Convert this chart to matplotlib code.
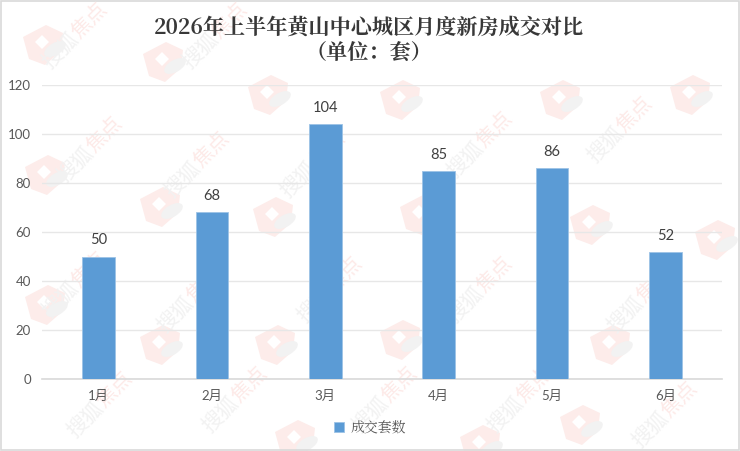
import math

import matplotlib.pyplot as plt
from matplotlib.patches import Ellipse, Polygon, Rectangle

plt.rcParams["font.family"] = ["Lato", "Noto Sans CJK SC", "DejaVu Sans"]

months = ["1月", "2月", "3月", "4月", "5月", "6月"]
deals = [50, 68, 104, 85, 86, 52]
y_ticks = [0, 20, 40, 60, 80, 100, 120]
title = "2026年上半年黄山中心城区月度新房成交对比\n（单位：套）"
series_name = "成交套数"
serif_fonts = ["Noto Serif CJK SC", "Noto Sans CJK SC", "DejaVu Sans"]

# watermark anchors in pixels
logo_spots = [(43, 45), (163, 62), (268, 95), (45, 175), (160, 207), (273, 217),
              (400, 100), (560, 100), (690, 95), (420, 215), (590, 225), (45, 305),
              (160, 345), (275, 345), (400, 340), (610, 345), (715, 240), (580, 425),
              (295, 440), (480, 445)]
mark_spots = [(75, 36), (215, 36), (90, 150), (197, 165), (313, 165), (480, 145),
              (620, 130), (75, 285), (190, 300), (330, 290), (480, 290), (640, 300),
              (100, 405), (235, 400), (385, 400), (520, 400), (665, 415)]

W, H = 740, 451
fig = plt.figure(figsize=(W / 100, H / 100), dpi=100, facecolor="white")

# full-figure pixel layer for the watermark and the outer frame
bg = fig.add_axes([0, 0, 1, 1], zorder=0)
bg.set_xlim(0, W)
bg.set_ylim(H, 0)
bg.axis("off")
for x, y in logo_spots:
    bg.add_patch(Polygon([(x - 20, y - 8), (x + 3, y - 20), (x + 20, y - 12), (x + 18, y + 6),
                          (x + 2, y + 20), (x - 14, y + 14)], closed=True,
                         fc="#fdecea", ec="none"))
    bg.add_patch(Ellipse((x + 12, y + 4), 24, 12, angle=-30, fc="#f2f2f2", ec="none"))
    bg.add_patch(Polygon([(x - 8, y - 3), (x - 1, y - 10), (x + 6, y - 3), (x - 1, y + 4)],
                         closed=True, fc="white", ec="none"))
for x, y in mark_spots:
    # 搜狐 grey, 焦点 red, running up the same 45 degree line
    step = 21
    dx, dy = step * math.cos(math.pi / 4), step * math.sin(math.pi / 4)
    bg.text(x - dx, y + dy, "搜狐", rotation=45, fontsize=15, color="#f2f2f2",
            ha="center", va="center", rotation_mode="anchor")
    bg.text(x + dx, y - dy, "焦点", rotation=45, fontsize=15, color="#fdeae8",
            ha="center", va="center", rotation_mode="anchor")
bg.add_patch(Rectangle((0.5, 0.5), W - 1.5, H - 1.5, fc="none", ec="#d9d9d9", lw=1.2))

# plot area: x 42-722 px, y 85-379 px
ax = fig.add_axes([42 / W, 1 - 379 / H, 680 / W, 294 / H], zorder=1)
ax.patch.set_alpha(0)
x_pos = list(range(len(months)))
bars = ax.bar(x_pos, deals, width=0.29, color="#5b9bd5", edgecolor="#9dc3e6",
              linewidth=0.6, label=series_name, zorder=3)
for xp, val in zip(x_pos, deals):
    ax.annotate(str(val), (xp, val), xytext=(0, 6.5), textcoords="offset points",
                ha="center", va="bottom", fontsize=10.5, color="#404040")

ax.set_xlim(-0.5, 5.5)
ax.set_ylim(0, 120)
ax.set_xticks(x_pos, months)
ax.set_yticks(y_ticks)
ax.grid(axis="y", color="#e7e7e7", lw=1, zorder=0)
ax.tick_params(length=0, labelsize=9.5, labelcolor="#595959")
ax.tick_params(axis="x", pad=8)
ax.tick_params(axis="y", pad=8)
for name, spine in ax.spines.items():
    spine.set_visible(name == "bottom")
ax.spines["bottom"].set_color("#d9d9d9")
ax.spines["bottom"].set_linewidth(1.2)

fig.text(369 / W, 1 - 40 / H, title, ha="center", va="center", fontsize=15.2,
         color="#383838", linespacing=1.1, fontweight="semibold", family=serif_fonts)

fig.legend(handles=[bars], labels=[series_name], loc="center",
           bbox_to_anchor=(370 / W, 1 - 428 / H), frameon=False,
           prop={"family": serif_fonts, "size": 10},
           labelcolor="#595959", handlelength=0.75, handleheight=0.75, handletextpad=0.5)

fig.savefig("out.png", dpi=100)
